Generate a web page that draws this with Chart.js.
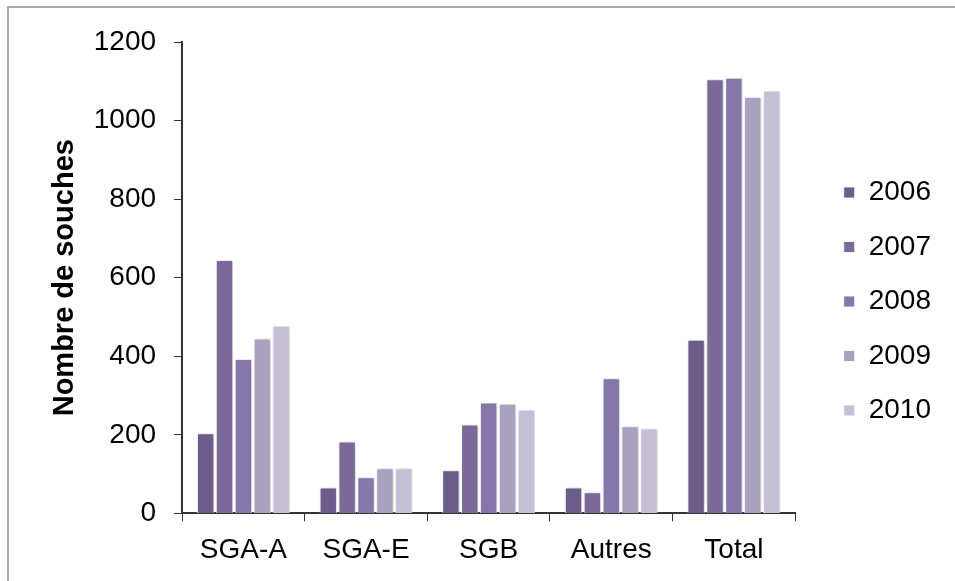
<!DOCTYPE html>
<html>
<head>
<meta charset="utf-8">
<script src="https://cdn.jsdelivr.net/npm/chart.js@4/dist/chart.umd.min.js"></script>
<style>
    body { margin: 0; background: #fff; }
    #frame { position: absolute; left: 7px; top: 6px; width: 960px; height: 590px;
             border-top: 2px solid #aaa; border-left: 2px solid #aaa; }
    #wrap { position: absolute; left: 0; top: 0; width: 955px; height: 581px; }
</style>
</head>
<body>
<div id="frame"></div>
<div id="wrap"><canvas id="chart"></canvas></div>
<script>
const categories = ["SGA-A", "SGA-E", "SGB", "Autres", "Total"];
const years = ["2006", "2007", "2008", "2009", "2010"];

const values2006 = [204, 66, 110, 66, 442];
const values2007 = [645, 183, 226, 54, 1105];
const values2008 = [393, 92, 282, 344, 1109];
const values2009 = [445, 115, 279, 222, 1060];
const values2010 = [478, 115, 264, 216, 1076];

const yTicks = [0, 200, 400, 600, 800, 1000, 1200];

const colors = ["#6b5c8a", "#7b6a99", "#8577aa", "#aaa0c0", "#c5c0d5"];
const allValues = [values2006, values2007, values2008, values2009, values2010];

// soft shadow around the bars like the original
const barShadow = {
    id: 'barShadow',
    beforeDatasetsDraw(chart) {
        const ctx = chart.ctx;
        ctx.save();
        ctx.shadowColor = 'rgba(0,0,0,0.22)';
        ctx.shadowBlur = 4;
        ctx.shadowOffsetX = 1;
        ctx.shadowOffsetY = 0;
    },
    afterDatasetsDraw(chart) {
        chart.ctx.restore();
    }
};

// push the legend a little to the right and up, away from the plot
const LEGEND_RIGHT = 22;
const LEGEND_UP = 9;
const legendShift = {
    id: 'legendShift',
    afterLayout(chart) {
        const legend = chart.legend;
        legend.left += LEGEND_RIGHT;
        legend.right += LEGEND_RIGHT;
        legend.top -= LEGEND_UP;
        legend.bottom -= LEGEND_UP;
    }
};

const datasets = years.map(function (y, i) {
    return {
        label: y,
        data: allValues[i],
        backgroundColor: colors[i],
        borderColor: 'rgba(255,255,255,0.85)',
        borderWidth: 1,
        barPercentage: 0.92,
        categoryPercentage: 0.77
    };
});

const FONT = "'Liberation Sans', Arial, sans-serif";

new Chart(document.getElementById('chart'), {
    type: 'bar',
    data: { labels: categories, datasets: datasets },
    plugins: [barShadow, legendShift],
    options: {
        responsive: true,
        maintainAspectRatio: false,
        animation: false,
        layout: { padding: { left: 48, right: 36, top: 42, bottom: 2 } },
        plugins: {
            tooltip: { enabled: false },
            legend: {
                position: 'right',
                labels: {
                    color: '#000',
                    font: { family: FONT, size: 28 },
                    boxWidth: 11,
                    boxHeight: 11,
                    padding: 26.5
                }
            }
        },
        scales: {
            x: {
                grid: { drawOnChartArea: false, drawTicks: true, tickLength: 8, color: '#333', offset: true },
                border: { color: '#333', width: 2 },
                ticks: { color: '#000', font: { family: FONT, size: 28 }, padding: 12 }
            },
            y: {
                min: 0,
                max: 1200,
                afterBuildTicks: function (axis) {
                    axis.ticks = yTicks.map(function (v) { return { value: v }; });
                },
                grid: { drawOnChartArea: false, drawTicks: true, tickLength: 8, color: '#333' },
                border: { color: '#333', width: 2 },
                ticks: {
                    color: '#000',
                    font: { family: FONT, size: 28 },
                    padding: 18,
                    callback: function (v) { return String(v); }
                },
                title: {
                    display: true,
                    text: 'Nombre de souches',
                    color: '#000',
                    font: { family: FONT, size: 29, weight: 'bold' },
                    padding: { top: 0, bottom: -7 }
                }
            }
        }
    }
});
</script>
</body>
</html>
